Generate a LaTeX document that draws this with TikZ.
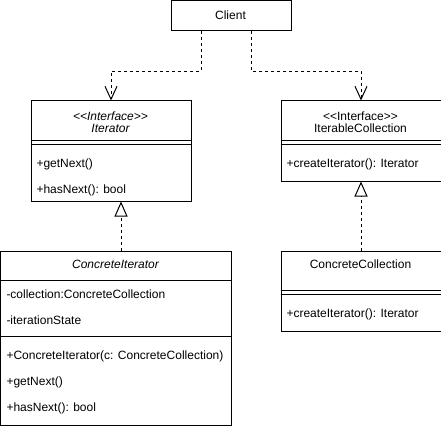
\documentclass[tikz,border=0pt]{standalone}
\usepackage{fontspec}
\setmainfont{Liberation Sans}
\usetikzlibrary{arrows.meta}

\begin{document}
\begin{tikzpicture}[x=1pt, y=-1pt, line width=1pt,
    font=\fontsize{12}{14}\selectfont,
    classbox/.style={draw, inner sep=0pt, anchor=north west},
    member/.style={inner sep=0pt, anchor=base west},
    title/.style={inner sep=0pt, anchor=base},
    uses/.style={dash pattern=on 3pt off 3pt, -{Straight Barb[length=13pt, width=12pt]}},
    realizes/.style={dash pattern=on 3pt off 3pt, -{Triangle[open, length=15pt, width=13pt]}}]
    \useasboundingbox (-0.5,-0.5) rectangle (440.5,424.5);

    % client
    \node[classbox, minimum width=120pt, minimum height=30pt] (client) at (170,0) {};
    \node[title] (clientname) at (230,19.5) {Client};

    % interface Iterator
    \node[classbox, minimum width=160pt, minimum height=100pt] (iterator) at (30,100) {};
    \node[title] (iterstereo) at (110,120) {\itshape <{}<Interface>{}>};
    \node[title] (itername) at (110,132) {\itshape Iterator};
    \draw (30,140) -- (190,140);
    \draw (30,144) -- (190,144);
    \node[member] (itergetnext) at (35.5,167) {+getNext()};
    \node[member] (iterhasnext) at (35.5,193) {+hasNext(): bool};

    % interface IterableCollection
    \node[classbox, minimum width=160pt, minimum height=80pt] (itercoll) at (280,100) {};
    \node[title] (collstereo) at (360,120) {<{}<Interface>{}>};
    \node[title] (collname) at (360,132) {IterableCollection};
    \draw (280,140) -- (440,140);
    \draw (280,144) -- (440,144);
    \node[member] (collcreate) at (285.5,167) {+createIterator(): Iterator};

    % ConcreteIterator
    \node[classbox, minimum width=230pt, minimum height=174pt] (concit) at (0,250) {};
    \node[title] (concitname) at (115,268) {\itshape ConcreteIterator};
    \draw (0,280) -- (230,280);
    \node[member] (concitcoll) at (5.5,298) {-collection:ConcreteCollection};
    \node[member] (concitstate) at (5.5,324) {-iterationState};
    \draw (0,336) -- (230,336);
    \node[member] (concitctor) at (5.5,359) {+ConcreteIterator(c: ConcreteCollection)};
    \node[member] (concitgetnext) at (5.5,385) {+getNext()};
    \node[member] (concithasnext) at (5.5,411) {+hasNext(): bool};

    % ConcreteCollection
    \node[classbox, minimum width=160pt, minimum height=80pt] (conccoll) at (280,250) {};
    \node[title] (conccollname) at (360,268) {ConcreteCollection};
    \draw (280,290) -- (440,290);
    \draw (280,294) -- (440,294);
    \node[member] (conccollcreate) at (285.5,317) {+createIterator(): Iterator};

    % connectors
    \draw[uses] ([xshift=-30pt]client.south) -- ++(0,40) -| (iterator.north);
    \draw[uses] ([xshift=20pt]client.south) -- ++(0,40) -| (itercoll.north);
    \draw[realizes] ([xshift=5pt]concit.north) -- ([xshift=10pt]iterator.south);
    \draw[realizes] (conccoll.north) -- (itercoll.south);
\end{tikzpicture}
\end{document}
